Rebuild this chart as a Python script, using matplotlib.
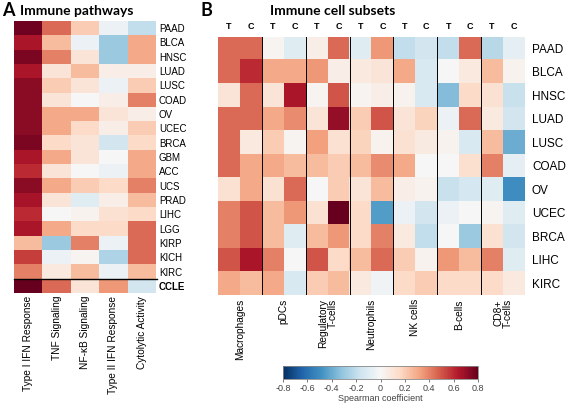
import numpy as np
import matplotlib
matplotlib.use('Agg')
import matplotlib.pyplot as plt

plt.rcParams['font.family'] = ['Liberation Sans', 'DejaVu Sans']

# ── Panel A data ──
pathway_rows = ['PAAD', 'BLCA', 'HNSC', 'LUAD', 'LUSC', 'COAD', 'OV', 'UCEC', 'BRCA',
                'GBM', 'ACC', 'UCS', 'PRAD', 'LIHC', 'LGG', 'KIRP', 'KICH', 'KIRC', 'CCLE']
pathway_cols = ['Type I IFN Response', 'TNF Signaling', 'NF-κB Signaling',
                'Type II IFN Response', 'Cytolytic Activity']
type1_ifn = [0.78, 0.65, 0.75, 0.65, 0.72, 0.72, 0.72, 0.72, 0.75, 0.65,
             0.60, 0.72, 0.66, 0.60, 0.65, 0.25, 0.55, 0.40, 0.80]
tnf = [0.45, 0.25, 0.40, 0.10, 0.20, 0.10, 0.30, 0.30, 0.15, 0.30,
       0.10, 0.30, 0.10, 0.00, 0.30, -0.30, -0.05, 0.08, 0.45]
nfkb = [0.20, -0.05, 0.10, 0.25, 0.10, 0.00, 0.30, 0.15, 0.10, 0.10,
        0.00, 0.20, -0.10, 0.03, 0.15, 0.40, 0.02, 0.25, 0.10]
type2_ifn = [-0.05, -0.30, -0.30, 0.05, -0.05, 0.05, 0.10, 0.05, -0.15, 0.00,
             -0.05, 0.15, 0.05, 0.12, 0.15, -0.05, -0.25, -0.05, 0.35]
cytolytic = [-0.20, 0.30, 0.30, 0.05, 0.20, 0.40, 0.05, 0.20, 0.15, 0.30,
             0.30, 0.40, 0.25, 0.15, 0.45, 0.45, 0.45, 0.25, -0.15]

# ── Panel B data ──
cell_rows = ['PAAD', 'BLCA', 'HNSC', 'LUAD', 'LUSC', 'COAD', 'OV', 'UCEC', 'BRCA', 'LIHC', 'KIRC']
cell_groups = ['Macrophages', 'pDCs', 'Regulatory\nT-cells', 'Neutrophils',
               'NK cells', 'B-cells', 'CD8+\nT-cells']
sub_labels = ['T', 'C']
# columns: Mac T, Mac C, pDC T, pDC C, Treg T, Treg C, Neut T, Neut C, NK T, NK C, B T, B C, CD8 T, CD8 C
cell_values = {
    'PAAD': [0.45, 0.45, 0.02, -0.10, 0.05, 0.45, -0.10, 0.35, -0.20, -0.15, -0.20, 0.45, -0.22, -0.08],
    'BLCA': [0.45, 0.60, 0.30, 0.30, 0.35, 0.05, 0.08, 0.10, 0.30, -0.12, 0.00, 0.08, 0.25, 0.03],
    'HNSC': [0.10, 0.45, 0.10, 0.65, 0.02, 0.50, 0.02, 0.05, 0.03, -0.12, -0.35, 0.15, 0.12, -0.18],
    'LUAD': [0.45, 0.45, 0.30, 0.38, 0.10, 0.70, 0.20, 0.50, 0.10, 0.18, -0.05, 0.45, 0.08, -0.15],
    'LUSC': [0.45, 0.08, 0.20, 0.02, 0.33, 0.12, 0.18, 0.03, 0.12, 0.07, 0.03, -0.12, 0.25, -0.40],
    'COAD': [0.45, 0.30, 0.30, 0.25, 0.25, 0.20, 0.25, 0.38, 0.30, 0.00, 0.00, 0.13, 0.40, -0.08],
    'OV':   [0.12, 0.30, 0.12, 0.45, 0.00, 0.20, 0.10, 0.25, 0.05, 0.03, -0.18, -0.14, -0.10, -0.50],
    'UCEC': [0.40, 0.50, 0.25, 0.35, 0.12, 0.80, 0.15, -0.45, -0.05, -0.15, -0.05, 0.00, 0.02, -0.10],
    'BRCA': [0.40, 0.50, 0.25, -0.10, 0.25, 0.35, 0.15, 0.40, 0.08, -0.20, 0.00, -0.30, 0.12, -0.15],
    'LIHC': [0.50, 0.65, 0.40, 0.00, 0.50, 0.15, 0.25, 0.45, 0.20, 0.03, 0.35, 0.25, 0.40, -0.10],
    'KIRC': [0.30, 0.25, 0.30, -0.12, 0.20, 0.25, 0.08, -0.03, 0.15, 0.20, 0.15, 0.15, 0.15, 0.08],
}

cmap = 'RdBu_r'
vmin, vmax = -0.8, 0.8

fig = plt.figure(figsize=(5.67, 4.05), dpi=100)

# ── Panel A ──
data_a = np.array([type1_ifn, tnf, nfkb, type2_ifn, cytolytic]).T
ax_a = fig.add_axes([14/567, 1-293/405, 142/567, 272/405])
ax_a.imshow(data_a, cmap=cmap, vmin=vmin, vmax=vmax, aspect='auto', interpolation='nearest')
for s in ax_a.spines.values():
    s.set_visible(False)
ax_a.yaxis.tick_right()
ax_a.set_yticks(range(len(pathway_rows)))
ax_a.set_yticklabels(pathway_rows, fontsize=7)
ax_a.get_yticklabels()[-1].set_fontweight('bold')
ax_a.set_xticks(range(len(pathway_cols)))
ax_a.set_xticklabels(pathway_cols, rotation=90, fontsize=7.3, va='top')
ax_a.tick_params(length=0, pad=2)
ax_a.axhline(len(pathway_rows) - 1.5, xmin=0, xmax=1.01, color='black', lw=1, clip_on=False)

fig.text(2/567, 1-11/405, 'A', fontsize=13, fontweight='bold', family='Lato', va='center')
fig.text(20/567, 1-11/405, 'Immune pathways', fontsize=10, fontweight='bold', family='Lato', va='center')

# ── Panel B ──
data_b = np.array([cell_values[r] for r in cell_rows])
ax_b = fig.add_axes([218/567, 1-295/405, 307/567, 258.3/405])
ax_b.imshow(data_b, cmap=cmap, vmin=vmin, vmax=vmax, aspect='auto', interpolation='nearest')
for s in ax_b.spines.values():
    s.set_visible(False)
ax_b.yaxis.tick_right()
ax_b.set_yticks(range(len(cell_rows)))
ax_b.set_yticklabels(cell_rows, fontsize=8.5)
ax_b.set_xticks([2*i + 0.5 for i in range(len(cell_groups))])
ax_b.set_xticklabels(cell_groups, rotation=90, fontsize=7.3, va='top',
                     linespacing=0.95, multialignment='right')
ax_b.tick_params(length=0, pad=3)
ax_b.tick_params(axis='y', pad=5)
for i in range(1, len(cell_groups)):
    ax_b.axvline(2*i - 0.5, color='black', lw=0.7)
for j in range(2*len(cell_groups)):
    ax_b.text(j, -0.75, sub_labels[j % 2], ha='center', va='bottom',
              fontsize=6.5, fontweight='bold')

fig.text(201/567, 1-11/405, 'B', fontsize=13, fontweight='bold', family='Lato', va='center')
fig.text(270/567, 1-11/405, 'Immune cell subsets', fontsize=10, fontweight='bold', family='Lato', va='center')

# ── Colorbar ──
cax = fig.add_axes([283/567, 1-379/405, 195/567, 13.5/405])
sm = plt.cm.ScalarMappable(cmap=cmap, norm=plt.Normalize(vmin, vmax))
cb = fig.colorbar(sm, cax=cax, orientation='horizontal', ticks=np.arange(-0.8, 0.81, 0.2))
cb.ax.set_xticklabels(['-0.8', '-0.6', '-0.4', '-0.2', '0', '0.2', '0.4', '0.6', '0.8'])
cb.ax.tick_params(labelsize=6.5, colors='#444444', length=2, width=0.5, pad=1.5)
cb.outline.set_edgecolor('#888888')
cb.outline.set_linewidth(0.6)
cb.set_label('Spearman coefficient', fontsize=6.5, color='#444444', labelpad=1)

plt.savefig('out.png', dpi=100)
